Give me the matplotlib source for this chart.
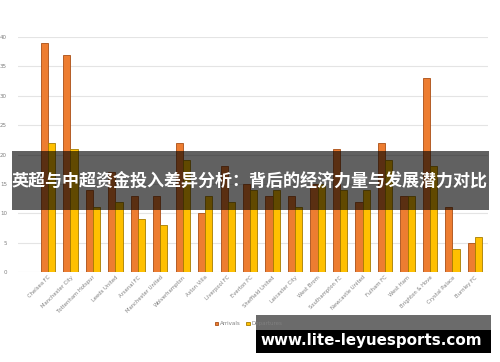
import matplotlib
matplotlib.use("Agg")
import matplotlib.pyplot as plt
import numpy as np
from matplotlib.patches import Rectangle

teams = ["Chelsea FC", "Manchester City", "Tottenham Hotspur", "Leeds United",
         "Arsenal FC", "Manchester United", "Wolverhampton", "Aston Villa",
         "Liverpool FC", "Everton FC", "Sheffield United", "Leicester City",
         "West Brom", "Southampton FC", "Newcastle United", "Fulham FC",
         "West Ham", "Brighton & Hove", "Crystal Palace", "Burnley FC"]
arrivals = [39, 37, 14, 17, 13, 13, 22, 10, 18, 15, 13, 13, 15, 21, 12, 22, 13, 33, 11, 5]
departures = [22, 21, 11, 12, 9, 8, 19, 13, 12, 14, 14, 11, 15, 14, 14, 19, 13, 18, 4, 6]
yticks = [0, 5, 10, 15, 20, 25, 30, 35, 40]
title = "英超与中超资金投入差异分析：背后的经济力量与发展潜力对比"
watermark = "www.lite-leyuesports.com"

plt.rcParams['font.family'] = ['DejaVu Sans']
fig = plt.figure(figsize=(5, 3.62), dpi=100)
ax = fig.add_axes([0.036, 0.2486, 0.94, 0.6492])

x = np.arange(len(teams))
w = 0.32
ax.bar(x - w/2, arrivals, w, color="#ED7D31", edgecolor="#a94f15", linewidth=0.6,
       label="Arrivals", zorder=3)
ax.bar(x + w/2, departures, w, color="#FFC000", edgecolor="#a67c00", linewidth=0.6,
       label="Departures", zorder=3)

ax.set_xlim(-1.33, 19.58)
ax.set_ylim(0, 40)
ax.set_yticks(yticks)
ax.set_yticklabels([str(t) for t in yticks], fontsize=4, color="#808080")
ax.yaxis.grid(True, color="#e4e4e4", linewidth=0.8, zorder=0)
ax.set_axisbelow(True)
ax.tick_params(axis="y", length=0, pad=8)
ax.tick_params(axis="x", length=0, pad=2)
ax.set_xticks(x)
ax.set_xticklabels(teams, rotation=45, ha="right", rotation_mode="anchor",
                   fontsize=3.8, color="#808080")
for s in ax.spines.values():
    s.set_visible(False)

leg = fig.legend(loc="center", bbox_to_anchor=(0.497, 0.105), ncol=2, frameon=False,
                 fontsize=4, handlelength=0.6, handleheight=0.6, columnspacing=1.0,
                 handletextpad=0.3, labelcolor="#808080")

# dark banner with title
fig.patches.append(Rectangle((12/500, 1 - 210/362), 477/500, 59/362,
                             transform=fig.transFigure, facecolor="black",
                             alpha=0.62, zorder=5))
fig.text(250/500, 1 - 181/362, title, ha="center", va="center", color="white",
         fontsize=12.25, fontweight="bold",
         family=["Noto Sans CJK SC", "DejaVu Sans"], zorder=6)

# watermark box
fig.patches.append(Rectangle((256/500, 1 - 330/362), 235/500, 15/362,
                             transform=fig.transFigure, facecolor="black",
                             alpha=0.58, zorder=5))
fig.patches.append(Rectangle((256/500, 1 - 353/362), 235/500, 23/362,
                             transform=fig.transFigure, facecolor="black", zorder=5))
fig.text(371/500, 1 - 341/362, watermark, ha="center", va="center", color="white",
         fontsize=10.9, fontweight="bold", zorder=6)

fig.savefig("out.png", dpi=100)
